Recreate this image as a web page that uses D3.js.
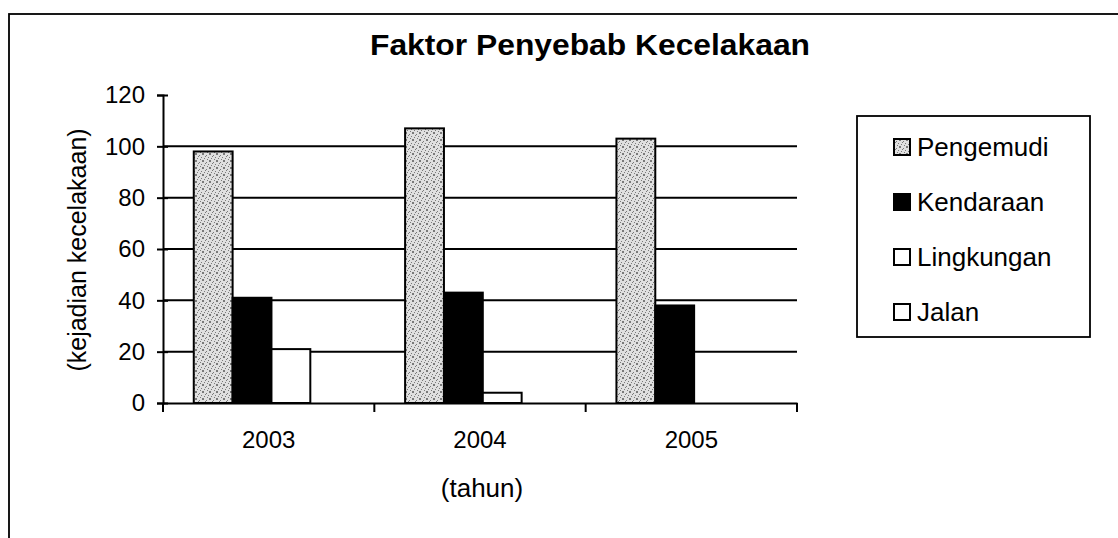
<!DOCTYPE html>
<html>
<head>
<meta charset="utf-8">
<script src="https://cdn.jsdelivr.net/npm/d3@7"></script>
<style>
  body { margin:0; background:#fff; }
  text { font-family: "Liberation Sans", Arial, sans-serif; fill:#000; }
</style>
</head>
<body>
<div class="chart_bar"></div>
<script>
// data
var years = ["2003", "2004", "2005"];
var seriesNames = ["Pengemudi", "Kendaraan", "Lingkungan", "Jalan"];
var pengemudi = [98, 107, 103];
var kendaraan = [41, 43, 38];
var lingkungan = [21, 4, 0];
var jalan = [0, 0, 0];
var yTicks = [0, 20, 40, 60, 80, 100, 120];

var values = [pengemudi, kendaraan, lingkungan, jalan];

var W = 1118, H = 538;
var plot = {left:163, right:797, top:95, bottom:403};

var svg = d3.select(".chart_bar").append("svg")
  .attr("width", W)
  .attr("height", H);

// stipple texture for Pengemudi
var defs = svg.append("defs");
var pat = defs.append("pattern")
  .attr("id","stipple")
  .attr("patternUnits","userSpaceOnUse")
  .attr("width",7).attr("height",7);
pat.append("rect").attr("width",7).attr("height",7).attr("fill","#e0e0e0");
var dots = [[0,0],[3,1],[5,3],[1,4],[4,5],[6,6],[2,2],[6,0],[0,6]];
pat.selectAll("rect.d").data(dots).enter().append("rect")
  .attr("class","d")
  .attr("x",function(d){return d[0];})
  .attr("y",function(d){return d[1];})
  .attr("width",1).attr("height",1)
  .attr("fill","#7a7a7a");

var fills = {"Pengemudi":"url(#stipple)", "Kendaraan":"#000", "Lingkungan":"#fff", "Jalan":"#fff"};

// outer frame
svg.append("rect")
  .attr("x",9).attr("y",14)
  .attr("width",W+20).attr("height",H+20)
  .attr("fill","none")
  .attr("stroke","#000")
  .attr("stroke-width",1.8);

var x0 = d3.scaleBand()
  .domain(years)
  .range([plot.left, plot.right])
  .paddingInner(0).paddingOuter(0);

var x1 = d3.scaleBand()
  .domain(seriesNames)
  .range([0, x0.bandwidth()])
  .paddingInner(0).paddingOuter(0.72).align(0.55);

var y = d3.scaleLinear()
  .domain([0, 120])
  .range([plot.bottom, plot.top]);

// grid lines (no line at the top value)
svg.append("g").selectAll("line")
  .data(yTicks.filter(function(t){return t > 0 && t < 120;}))
  .enter().append("line")
  .attr("x1", plot.left).attr("x2", plot.right)
  .attr("y1", function(d){return y(d);})
  .attr("y2", function(d){return y(d);})
  .attr("stroke","#000")
  .attr("stroke-width",2);

// bars
var rows = [];
years.forEach(function(yr, i){
  seriesNames.forEach(function(s, j){
    rows.push({year:yr, series:s, value:values[j][i]});
  });
});

svg.append("g").selectAll("rect")
  .data(rows.filter(function(d){return d.value > 0;}))
  .enter().append("rect")
  .attr("x", function(d){return x0(d.year) + x1(d.series);})
  .attr("y", function(d){return y(d.value);})
  .attr("width", x1.bandwidth())
  .attr("height", function(d){return y(0) - y(d.value);})
  .attr("fill", function(d){return fills[d.series];})
  .attr("stroke","#000")
  .attr("stroke-width",2);

// y axis
var yAxis = svg.append("g")
  .attr("transform","translate("+plot.left+",0)")
  .call(d3.axisLeft(y).tickValues(yTicks).tickSize(6).tickPadding(12));
yAxis.select(".domain").attr("stroke","#000").attr("stroke-width",2);
yAxis.selectAll(".tick line").attr("x2",5).attr("x1",-6).attr("stroke","#000").attr("stroke-width",2);
yAxis.selectAll(".tick text").style("font-size","24px");

// x axis: labels centred, ticks on category borders
var xAxis = svg.append("g")
  .attr("transform","translate(0,"+plot.bottom+")")
  .call(d3.axisBottom(x0).tickSize(0).tickPadding(28));
xAxis.select(".domain").attr("stroke","#000").attr("stroke-width",2);
xAxis.selectAll(".tick text").style("font-size","24px");

var borders = years.map(function(yr){return x0(yr);}).concat([x0.range()[1]]);
xAxis.selectAll("line.border")
  .data(borders)
  .enter().append("line")
  .attr("class","border")
  .attr("x1",function(d){return d;}).attr("x2",function(d){return d;})
  .attr("y1",0).attr("y2",9)
  .attr("stroke","#000").attr("stroke-width",2);

// title
svg.append("text")
  .attr("x",590).attr("y",55)
  .attr("text-anchor","middle")
  .attr("textLength",440)
  .attr("lengthAdjust","spacingAndGlyphs")
  .style("font-size","29px")
  .style("font-weight","bold")
  .text("Faktor Penyebab Kecelakaan");

// axis titles
svg.append("text")
  .attr("transform","translate(77,250) rotate(-90)")
  .attr("text-anchor","middle")
  .attr("dy","0.35em")
  .style("font-size","25px")
  .text("(kejadian kecelakaan)");

svg.append("text")
  .attr("x",482).attr("y",497)
  .attr("text-anchor","middle")
  .style("font-size","26px")
  .text("(tahun)");

// legend
var legend = svg.append("g");
legend.append("rect")
  .attr("x",857).attr("y",116)
  .attr("width",233).attr("height",221)
  .attr("fill","#fff")
  .attr("stroke","#000")
  .attr("stroke-width",1.8);

var item = legend.selectAll("g.item")
  .data(seriesNames)
  .enter().append("g")
  .attr("class","item")
  .attr("transform",function(d,i){return "translate(893,"+(147 + i*55)+")";});

item.append("rect")
  .attr("x",1).attr("y",-8)
  .attr("width",16).attr("height",16)
  .attr("fill",function(d){return fills[d];})
  .attr("stroke","#000")
  .attr("stroke-width",2);

item.append("text")
  .attr("x",24)
  .attr("dy","0.36em")
  .style("font-size","26px")
  .text(function(d){return d;});
</script>
</body>
</html>
